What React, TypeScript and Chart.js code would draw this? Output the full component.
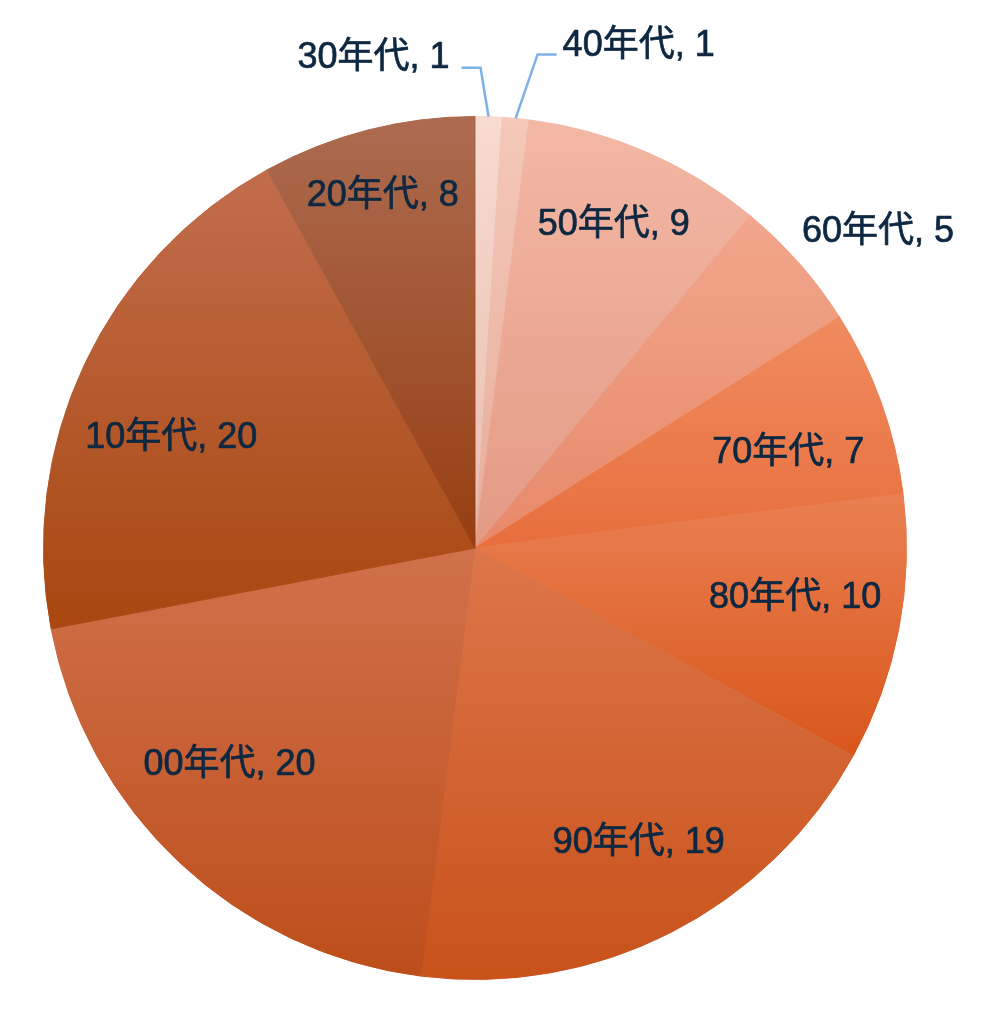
import React, { useEffect, useRef } from "react";
import { Chart, registerables } from "chart.js";

Chart.register(...registerables);

// ---- data ----
const categories = ["30年代", "40年代", "50年代", "60年代", "70年代", "80年代", "90年代", "00年代", "10年代", "20年代"];
const counts = [1, 1, 9, 5, 7, 10, 19, 20, 20, 8];

// ---- style ----
const topColors = ["#f8dbd1", "#f5c8b9", "#f3b8a5", "#f2a68b", "#f08c60", "#ea8052", "#dd764a", "#d0714c", "#c26d4d", "#ac6b50"];
const bottomColors = ["#e9bcae", "#e6ad9b", "#e39a84", "#e7896a", "#e86e3c", "#d9561a", "#c9521a", "#bd4e1a", "#a8470f", "#973e12"];
const TEXT = "#0e2841";
const FONT = '36px "Liberation Sans", "Noto Sans CJK JP", sans-serif';
// label placement: radius fraction, dx, dy (inside / best-fit labels)
const labelPlace: Record<number, [number, number, number]> = {
  2: [0.81, 0, -2],
  3: [1.18, 21, 21],
  4: [0.764, 3, 17],
  5: [0.76, -2, -11],
  6: [0.78, 11, -5],
  7: [0.76, -21, -22],
  8: [0.76, -7, 30],
  9: [0.84, -2, -1],
};
// leader-line labels: elbow dx, elbow dy, horizontal run, text gap, text dy
const leaderPlace: Record<number, [number, number, number, number, number]> = {
  0: [-8, -49, -19, 12, -10],
  1: [22, -64, 19, 6, -8],
};

function sliceGradient(ctx: any) {
  const chart = ctx.chart;
  const area = chart.chartArea;
  const i = ctx.dataIndex;
  if (!area || i === undefined) return topColors[i ?? 0];
  const cx = (area.left + area.right) / 2;
  const cy = (area.top + area.bottom) / 2;
  const r = Math.min(area.right - area.left, area.bottom - area.top) / 2;
  const total = counts.reduce((a, b) => a + b, 0);
  let cum = 0;
  for (let k = 0; k < i; k++) cum += counts[k];
  const a0 = -Math.PI / 2 + (2 * Math.PI * cum) / total;
  const a1 = -Math.PI / 2 + (2 * Math.PI * (cum + counts[i])) / total;
  const ys = [cy, cy + r * Math.sin(a0), cy + r * Math.sin(a1)];
  const has = (a: number) => {
    for (let t = a - 4 * Math.PI; t <= a + 4 * Math.PI; t += 2 * Math.PI) {
      if (t >= a0 && t <= a1) return true;
    }
    return false;
  };
  if (has(-Math.PI / 2)) ys.push(cy - r);
  if (has(Math.PI / 2)) ys.push(cy + r);
  const y0 = Math.min(...ys);
  const y1 = Math.max(...ys);
  const g = chart.ctx.createLinearGradient(0, y0, 0, y1);
  g.addColorStop(0, topColors[i]);
  g.addColorStop(1, bottomColors[i]);
  return g;
}

const labelPlugin = {
  id: "sliceLabels",
  afterDatasetsDraw(chart: any) {
    const ctx = chart.ctx;
    const meta = chart.getDatasetMeta(0);
    ctx.save();
    ctx.font = FONT;
    ctx.fillStyle = TEXT;
    ctx.textBaseline = "middle";
    const draw = (text: string, x: number, y: number) => {
      ctx.fillText(text, x, y);
      ctx.lineWidth = 0.7;
      ctx.strokeStyle = TEXT;
      ctx.strokeText(text, x, y);
    };
    meta.data.forEach((arc: any, i: number) => {
      const p = arc.getProps(["x", "y", "startAngle", "endAngle", "outerRadius"], true);
      const mid = (p.startAngle + p.endAngle) / 2;
      const text = `${categories[i]}, ${counts[i]}`;
      if (leaderPlace[i]) {
        const [ex, ey, hx, gap, tdy] = leaderPlace[i];
        const sx = p.x + Math.cos(mid) * p.outerRadius;
        const sy = p.y + Math.sin(mid) * p.outerRadius;
        const bx = sx + ex;
        const by = sy + ey;
        const lx = bx + hx;
        ctx.beginPath();
        ctx.strokeStyle = "#7eb2e6";
        ctx.lineWidth = 2.5;
        ctx.moveTo(sx, sy);
        ctx.lineTo(bx, by);
        ctx.lineTo(lx, by);
        ctx.stroke();
        ctx.textAlign = hx < 0 ? "right" : "left";
        draw(text, hx < 0 ? lx - gap : lx + gap, by + tdy);
      } else {
        const [f, dx, dy] = labelPlace[i];
        ctx.textAlign = "center";
        draw(text, p.x + Math.cos(mid) * p.outerRadius * f + dx, p.y + Math.sin(mid) * p.outerRadius * f + dy);
      }
    });
    ctx.restore();
  },
};

export default function App() {
  const ref = useRef<HTMLCanvasElement>(null);
  useEffect(() => {
    if (!ref.current) return;
    const chart = new Chart(ref.current, {
      type: "pie",
      data: {
        labels: categories,
        datasets: [
          {
            data: counts,
            backgroundColor: sliceGradient,
            borderColor: sliceGradient,
            borderWidth: 1,
          },
        ],
      },
      options: {
        responsive: false,
        animation: false,
        layout: { padding: { left: 35, top: 108, right: 71, bottom: 18 } },
        plugins: { legend: { display: false }, tooltip: { enabled: false } },
      },
      plugins: [labelPlugin],
    });
    return () => chart.destroy();
  }, []);
  return (
    <div style={{ width: 970, height: 990 }}>
      <canvas ref={ref} width={970} height={990} />
    </div>
  );
}
